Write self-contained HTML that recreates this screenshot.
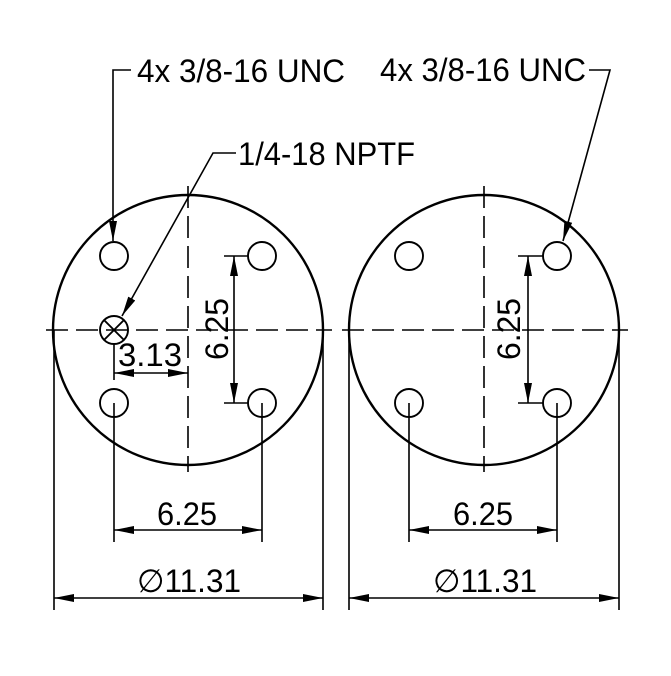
<!DOCTYPE html>
<html><head><meta charset="utf-8"><style>html,body{margin:0;padding:0;background:#fff}</style></head>
<body>
<svg width="671" height="671" viewBox="0 0 671 671" xmlns="http://www.w3.org/2000/svg" font-family="Liberation Sans, sans-serif" font-size="32" fill="none" stroke="#000">
<defs>
<marker id="a" viewBox="0 0 20 8" refX="20" refY="4" markerWidth="20" markerHeight="8" markerUnits="userSpaceOnUse" orient="auto"><path d="M0,0 L20,4 L0,8z" fill="#000" stroke="none"/></marker>
</defs>
<g stroke-width="2.4">
<circle cx="188" cy="330" r="135"/>
<circle cx="484" cy="330" r="135"/>
</g>
<g stroke-width="1.9">
<circle cx="114" cy="256" r="14"/><circle cx="262" cy="256" r="14"/>
<circle cx="114" cy="403" r="14"/><circle cx="262" cy="403" r="14"/>
<circle cx="114" cy="330" r="14"/>
<path d="M104,320 L124,340 M124,320 L104,340"/>
<circle cx="409" cy="256" r="14"/><circle cx="557" cy="256" r="14"/>
<circle cx="409" cy="403" r="14"/><circle cx="557" cy="403" r="14"/>
</g>
<g stroke-width="1.6" stroke-dasharray="22,8">
<path d="M46,330 H332"/><path d="M188,186 V472"/>
<path d="M342,330 H628"/><path d="M484,186 V472"/>
</g>
<g stroke-width="1.6">
<path d="M54,330 V610 M323,330 V610 M349,330 V610 M619,330 V610"/>
<path d="M114,403 V542 M262,403 V542 M409,403 V542 M557,403 V542"/>
<path d="M114,344 V380"/>
<path d="M224,256 H248 M224,403 H248 M518,256 H543 M518,403 H543"/>
<path d="M84,598 H54" marker-end="url(#a)"/><path d="M84,598 H323" marker-end="url(#a)"/>
<path d="M380,598 H349" marker-end="url(#a)"/><path d="M380,598 H619" marker-end="url(#a)"/>
<path d="M188,530 H114" marker-end="url(#a)"/><path d="M188,530 H262" marker-end="url(#a)"/>
<path d="M484,530 H409" marker-end="url(#a)"/><path d="M484,530 H557" marker-end="url(#a)"/>
<path d="M150,373 H114" marker-end="url(#a)"/><path d="M150,373 H188" marker-end="url(#a)"/>
<path d="M234,330 V256" marker-end="url(#a)"/><path d="M234,330 V403" marker-end="url(#a)"/>
<path d="M528,330 V256" marker-end="url(#a)"/><path d="M528,330 V403" marker-end="url(#a)"/>
<path d="M131,70 H113 V241" marker-end="url(#a)"/>
<path d="M236,153 H213 L122,316" marker-end="url(#a)"/>
<path d="M589,70 H610 L563,241" marker-end="url(#a)"/>
</g>
<g fill="#000" stroke="none">
<text x="137" y="82" textLength="208" lengthAdjust="spacingAndGlyphs">4x 3/8-16 UNC</text>
<text x="380" y="81" textLength="206" lengthAdjust="spacingAndGlyphs">4x 3/8-16 UNC</text>
<text x="238" y="165" textLength="177" lengthAdjust="spacingAndGlyphs">1/4-18 NPTF</text>
<text x="118" y="366" textLength="64" lengthAdjust="spacingAndGlyphs">3.13</text>
<text x="157" y="525" textLength="60" lengthAdjust="spacingAndGlyphs">6.25</text>
<text x="453" y="525" textLength="60" lengthAdjust="spacingAndGlyphs">6.25</text>
<text x="137" y="592" textLength="104" lengthAdjust="spacingAndGlyphs">∅11.31</text>
<text x="433" y="592" textLength="104" lengthAdjust="spacingAndGlyphs">∅11.31</text>
<text transform="translate(228,360) rotate(-90)" textLength="62" lengthAdjust="spacingAndGlyphs">6.25</text>
<text transform="translate(520,360) rotate(-90)" textLength="62" lengthAdjust="spacingAndGlyphs">6.25</text>
</g>
</svg>
</body></html>
